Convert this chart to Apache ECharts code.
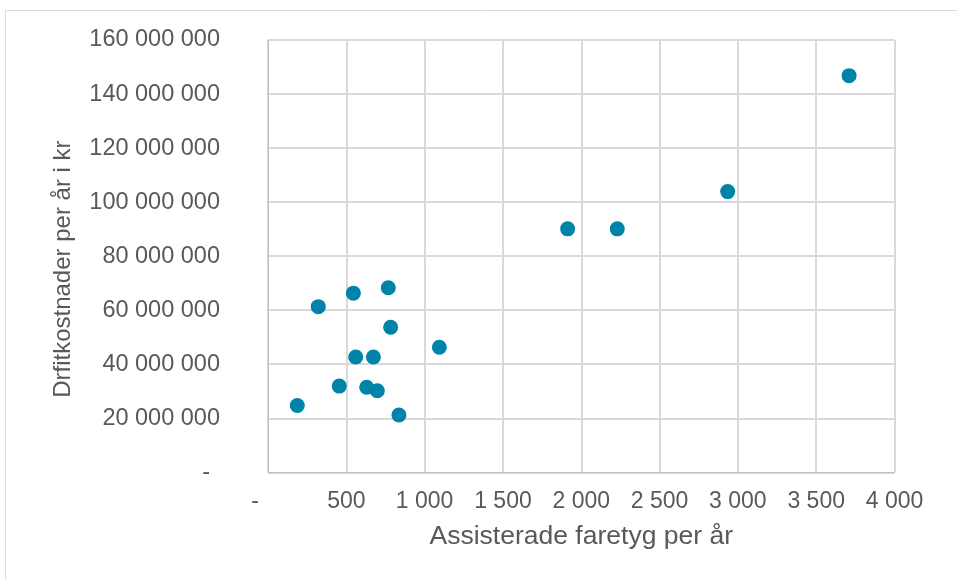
<!DOCTYPE html>
<html>
<head>
<meta charset="utf-8">
<script src="https://cdn.jsdelivr.net/npm/echarts@6/dist/echarts.min.js"></script>
<style>html,body{margin:0;padding:0;background:#fff}#c{width:957px;height:579px}</style>
</head>
<body>
<div id="c"></div>
<script>
const xValues = [321, 545, 768, 783, 1094, 560, 673, 455, 630, 698, 187, 836, 1913, 2230, 2935, 3710];
const yValues = [61300000, 66300000, 68300000, 53700000, 46300000, 42700000, 42700000, 31900000, 31500000, 30200000, 24700000, 21200000, 90100000, 90100000, 103900000, 146800000];
const xTitle = 'Assisterade faretyg per år';
const yTitle = 'Drfitkostnader per år i kr';

function fmt(v) {
  return String(Math.round(v)).replace(/\B(?=(\d{3})+(?!\d))/g, ' ');
}

const chart = echarts.init(document.getElementById('c'), null, {renderer: 'canvas'});
const font = 'Liberation Sans, Arial, sans-serif';
chart.setOption({
  animation: false,
  backgroundColor: '#fff',
  graphic: [{
    type: 'rect', shape: {x: 5.5, y: 10.5, width: 1200, height: 1200},
    style: {fill: 'none', stroke: '#D9D9D9', lineWidth: 1}, silent: true
  }],
  grid: {left: 268, top: 40, right: 62.5, bottom: 106.7},
  xAxis: {
    type: 'value', min: 0, max: 4000, interval: 500,
    name: xTitle, nameLocation: 'middle', nameGap: 51,
    nameTextStyle: {color: '#595959', fontSize: 26.5, fontFamily: font},
    axisLine: {show: true, lineStyle: {color: '#BFBFBF', width: 1}},
    axisTick: {show: false},
    splitLine: {show: true, lineStyle: {color: '#D9D9D9', width: 2}},
    axisLabel: {
      color: '#595959', fontSize: 23, fontFamily: font, margin: 18,
      formatter: v => v === 0 ? '{d|-}' : fmt(v),
      rich: {d: {color: '#595959', fontSize: 23, fontFamily: font, padding: [0, 26, 0, 0]}}
    }
  },
  yAxis: {
    type: 'value', min: 0, max: 160000000, interval: 20000000,
    name: yTitle, nameLocation: 'middle', nameGap: 193, nameRotate: 90,
    nameTextStyle: {color: '#595959', fontSize: 24, fontFamily: font, padding: [0, 0, 0, -26]},
    axisLine: {show: true, lineStyle: {color: '#BFBFBF', width: 1}},
    axisTick: {show: false},
    splitLine: {show: true, lineStyle: {color: '#D9D9D9', width: 2}},
    axisLabel: {
      color: '#595959', fontSize: 23.5, fontFamily: font, margin: 48,
      formatter: v => v === 0 ? '{d|-}' : fmt(v),
      rich: {d: {color: '#595959', fontSize: 23.5, fontFamily: font, padding: [0, 10, 0, 0]}}
    }
  },
  series: [{
    type: 'scatter',
    symbol: 'circle',
    symbolSize: 15,
    itemStyle: {color: '#0083A9', opacity: 1},
    data: xValues.map((x, i) => [x, yValues[i]])
  }]
});
</script>
</body>
</html>
